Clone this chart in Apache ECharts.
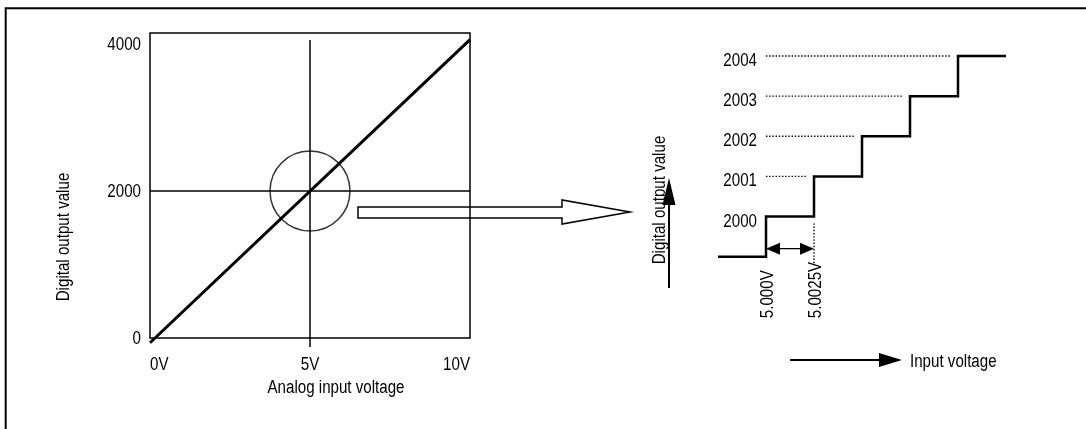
<!DOCTYPE html>
<html>
<head>
<meta charset="utf-8">
<script src="https://cdn.jsdelivr.net/npm/echarts@6/dist/echarts.min.js"></script>
<style>
  html, body { margin: 0; padding: 0; background: #fff; }
  #chart { width: 1086px; height: 429px; }
</style>
</head>
<body>
<div id="chart"></div>
<script>
// Overview: digital output over the full 0–10 V input range
const overviewVolts = [0, 10];
const overviewCodes = [-65, 4060];          // transfer line runs slightly past both corners
const overviewVoltTicks = [0, 5, 10];
const overviewVoltLabels = ['0V', '5V', '10V'];
const overviewCodeTicks = [0, 2000, 4000];
const midpoint = [5, 2000];
const crossTop = 4055;

// Zoomed staircase around 5 V: one code per 2.5 mV
const stepVolts = [4.9975, 5.0000, 5.0025, 5.0050, 5.0075, 5.0100, 5.0125];
const stepCodes = [1999, 2000, 2001, 2002, 2003, 2004, 2004];
const codeTicks = [2000, 2001, 2002, 2003, 2004];
const voltTicks = [5.0000, 5.0025];
const voltTickLabels = ['5.000V', '5.0025V'];

// narrow sans look: Liberation Sans squeezed horizontally
const FONT = "'Liberation Sans', Arial, sans-serif";
const FS = 18;
const SQUEEZE = 0.84;
const INK = '#000';

const chart = echarts.init(document.getElementById('chart'), null, { renderer: 'canvas' });

const zip = (xs, ys) => xs.map((x, i) => [x, ys[i]]);

// dotted guides from each code label across to its riser
const guideGap = 0.00036;
const guideSeries = codeTicks.slice(1).map(code => {
  const i = stepCodes.indexOf(code);
  return {
    type: 'line', xAxisIndex: 1, yAxisIndex: 1, silent: true, clip: false,
    symbol: 'none',
    lineStyle: { color: INK, width: 1.4, type: [1.4, 1.8] },
    data: [[stepVolts[1], code], [stepVolts[i] - guideGap, code]]
  };
});

const hiddenAxis = { axisLine: { show: false }, axisTick: { show: false }, splitLine: { show: false }, axisLabel: { show: false } };

chart.setOption({
  animation: false,
  grid: [
    { left: 150, width: 320, top: 33, bottom: 91, show: true, borderColor: INK, borderWidth: 1.5, backgroundColor: 'transparent' },
    { left: 718, width: 288, top: 56, bottom: 172.3, show: false }
  ],
  xAxis: [
    {
      type: 'value', gridIndex: 0, min: 0, max: 10, ...hiddenAxis,
      axisTick: { show: true, customValues: [midpoint[0]], length: 9, inside: false, lineStyle: { color: INK, width: 1.5 } }
    },
    { type: 'value', gridIndex: 1, min: stepVolts[0], max: stepVolts[stepVolts.length - 1], ...hiddenAxis }
  ],
  yAxis: [
    { type: 'value', gridIndex: 0, min: 0, max: 4150, ...hiddenAxis },
    { type: 'value', gridIndex: 1, min: 1999, max: 2004, ...hiddenAxis }
  ],
  series: [
    {
      type: 'line', xAxisIndex: 0, yAxisIndex: 0, silent: true, clip: false, symbol: 'none',
      lineStyle: { color: INK, width: 1.5 },
      data: [[overviewVolts[0], midpoint[1]], [overviewVolts[1], midpoint[1]]]
    },
    {
      type: 'line', xAxisIndex: 0, yAxisIndex: 0, silent: true, clip: false, symbol: 'none',
      lineStyle: { color: INK, width: 1.5 },
      data: [[midpoint[0], 0], [midpoint[0], crossTop]]
    },
    {
      type: 'line', xAxisIndex: 0, yAxisIndex: 0, silent: true, clip: false, symbol: 'none',
      lineStyle: { color: INK, width: 3 },
      data: zip(overviewVolts, overviewCodes)
    },
    {
      type: 'scatter', xAxisIndex: 0, yAxisIndex: 0, silent: true,
      symbol: 'circle', symbolSize: 80,
      itemStyle: { color: 'rgba(0,0,0,0)', borderColor: INK, borderWidth: 1.5 },
      data: [midpoint]
    },
    {
      type: 'line', xAxisIndex: 1, yAxisIndex: 1, silent: true, clip: false, symbol: 'none',
      step: 'end',
      lineStyle: { color: INK, width: 2.5, join: 'miter' },
      data: zip(stepVolts, stepCodes)
    },
    {
      type: 'line', xAxisIndex: 1, yAxisIndex: 1, silent: true, clip: false, symbol: 'none',
      lineStyle: { color: INK, width: 1.4, type: [1.4, 1.8] },
      data: [[voltTicks[1], 1999.83], [voltTicks[1], 1998.79]]
    },
    ...guideSeries
  ]
});

// pixel helpers based on the axis scales
const px0 = v => chart.convertToPixel({ gridIndex: 0 }, v);
const px1 = v => chart.convertToPixel({ gridIndex: 1 }, v);

const line = (pts, w) => ({ type: 'polyline', silent: true, shape: { points: pts }, style: { stroke: INK, lineWidth: w, fill: null } });
const tri = pts => ({ type: 'polygon', silent: true, shape: { points: pts }, style: { fill: INK, stroke: null } });
const text = (x, y, s, align, rotation) => ({
  type: 'text', silent: true, x, y, rotation: rotation || 0, scaleX: SQUEEZE,
  style: { text: s, font: FS + 'px ' + FONT, fill: INK, align: align || 'center', verticalAlign: 'middle' }
});

const labels = [];
// overview tick labels
overviewCodeTicks.forEach(v => {
  const p = px0([0, v]);
  labels.push(text(p[0] - 9, p[1] + 1, String(v), 'right'));
});
overviewVoltTicks.forEach((v, i) => {
  const p = px0([v, 0]);
  const align = i === 0 ? 'left' : (i === overviewVoltTicks.length - 1 ? 'right' : 'center');
  labels.push(text(p[0], p[1] + 27, overviewVoltLabels[i], align));
});
// staircase tick labels
codeTicks.forEach(v => {
  const p = px1([stepVolts[1], v]);
  labels.push(text(p[0] - 9, p[1] + 5, String(v), 'right'));
});
voltTicks.forEach((v, i) => {
  const p = px1([v, stepCodes[0]]);
  labels.push(text(p[0] + 2.5, p[1] + 61.5, voltTickLabels[i], 'left', Math.PI / 2));
});

// 2.5 mV span arrow
const a0 = px1([voltTicks[0], 1999.2]);
const a1 = px1([voltTicks[1], 1999.2]);
const ah = 14, aw = 6;

chart.setOption({
  graphic: [
    // page frame
    line([[5.7, 429], [5.7, 8.3], [1086, 8.3]], 2),
    // hollow pointer from the circled region to the zoomed view
    {
      type: 'polygon', silent: true,
      shape: { points: [[358, 207], [562, 207], [562, 200], [630, 212], [562, 224], [562, 218], [358, 218]] },
      style: { fill: null, stroke: INK, lineWidth: 1.5, lineJoin: 'miter' }
    },
    // axis direction arrows of the zoomed view
    line([[669, 288], [669, 203]], 2),
    tri([[662.5, 205], [675.5, 205], [669, 178]]),
    line([[790, 360], [881, 360]], 2),
    tri([[879, 353], [879, 367], [902, 360]]),
    line([[a0[0] + 6, a0[1]], [a1[0] - 6, a1[1]]], 1.2),
    tri([[a0[0], a0[1]], [a0[0] + ah, a0[1] - aw], [a0[0] + ah, a0[1] + aw]]),
    tri([[a1[0], a1[1]], [a1[0] - ah, a1[1] - aw], [a1[0] - ah, a1[1] + aw]]),
    ...labels,
    // titles
    text(336, 388, 'Analog input voltage'),
    text(64, 237, 'Digital output value', 'center', Math.PI / 2),
    text(660, 200, 'Digital output value', 'center', Math.PI / 2),
    text(910, 362, 'Input voltage', 'left')
  ]
});
</script>
</body>
</html>
